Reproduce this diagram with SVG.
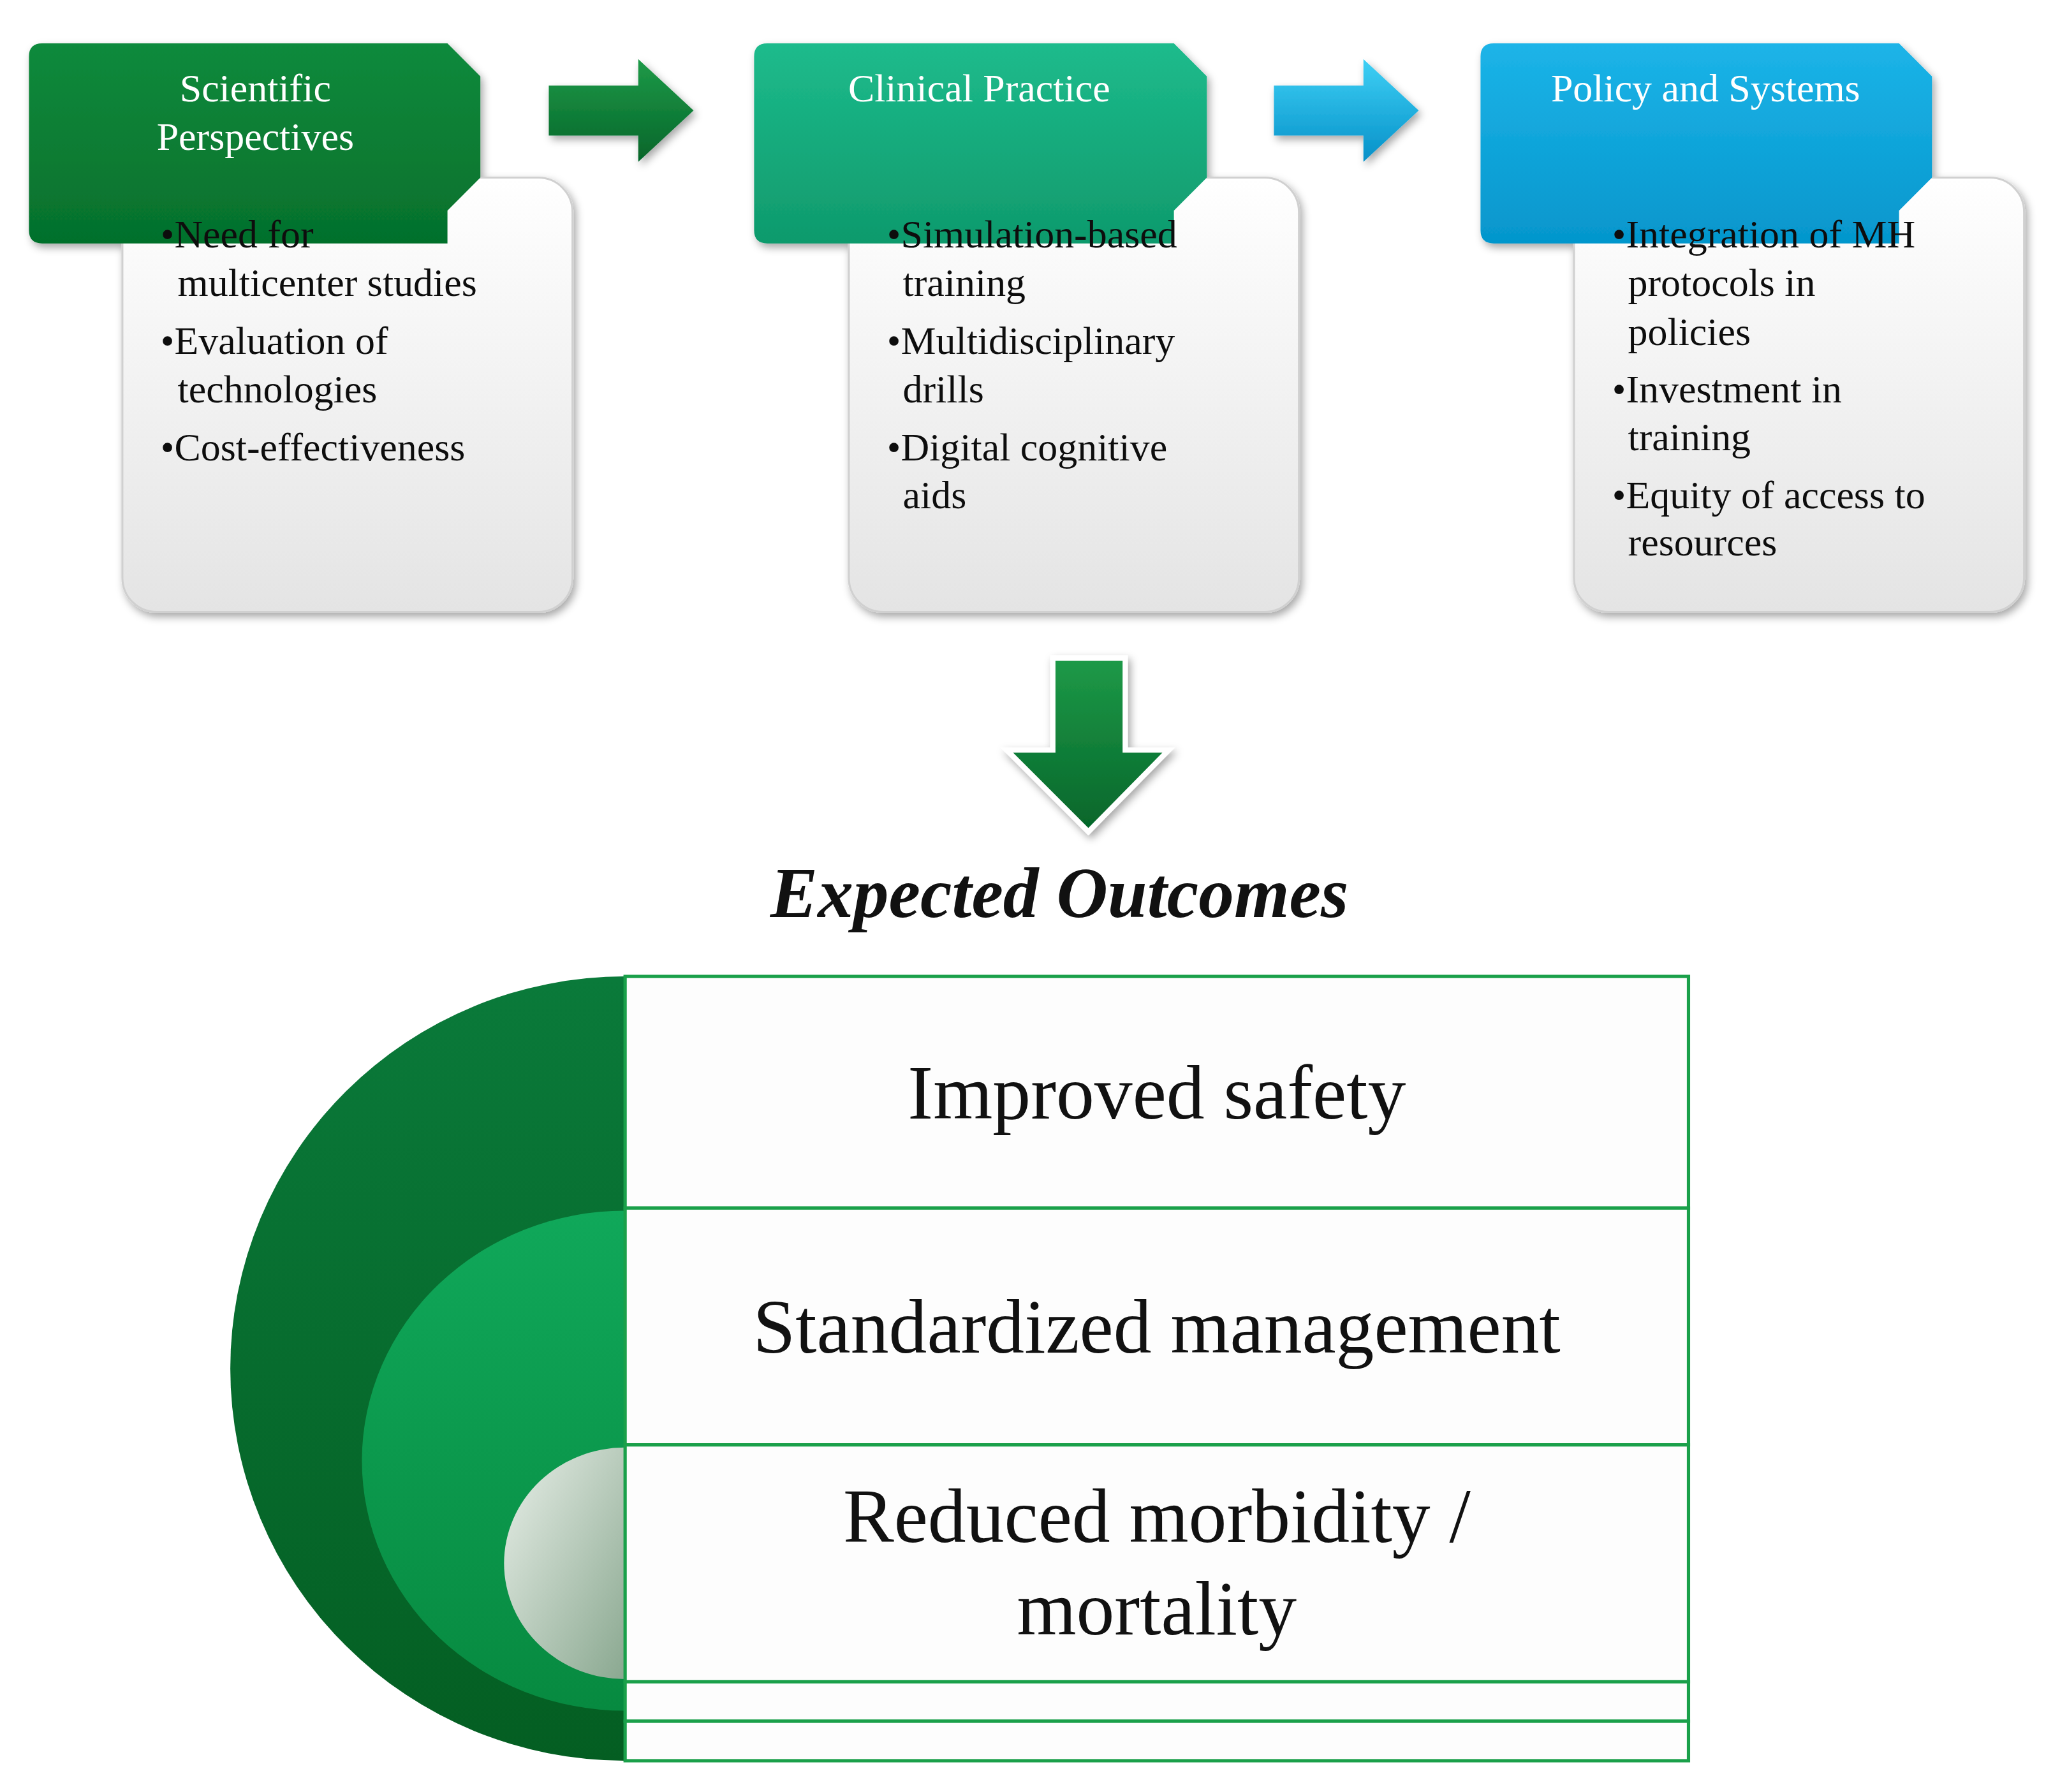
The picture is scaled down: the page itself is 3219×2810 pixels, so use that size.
<svg xmlns="http://www.w3.org/2000/svg" width="3219" height="2810" viewBox="0 0 3219 2810">
<defs>
<linearGradient id="gHead1" x1="0" y1="0" x2="0" y2="1"><stop offset="0" stop-color="#0f8a3c"/><stop offset="1" stop-color="#05702c"/></linearGradient>
<linearGradient id="gHead2" x1="0" y1="0" x2="0" y2="1"><stop offset="0" stop-color="#1dbb8c"/><stop offset="1" stop-color="#0f9a6c"/></linearGradient>
<linearGradient id="gHead3" x1="0" y1="0" x2="0" y2="1"><stop offset="0" stop-color="#1cb4e8"/><stop offset="1" stop-color="#0596cc"/></linearGradient>
<linearGradient id="gBox" x1="0" y1="0" x2="0" y2="1"><stop offset="0" stop-color="#ffffff"/><stop offset="1" stop-color="#e4e4e4"/></linearGradient>
<linearGradient id="gArrG" x1="0" y1="0" x2="0" y2="1"><stop offset="0" stop-color="#1e9a48"/><stop offset="1" stop-color="#05652a"/></linearGradient>
<linearGradient id="gArrB" x1="0" y1="0" x2="0" y2="1"><stop offset="0" stop-color="#3fd0f5"/><stop offset="1" stop-color="#0590c8"/></linearGradient>
<linearGradient id="gBig" x1="0" y1="0" x2="0" y2="1"><stop offset="0" stop-color="#0a7a3a"/><stop offset="1" stop-color="#045e22"/></linearGradient>
<linearGradient id="gMid" x1="0" y1="0" x2="0" y2="1"><stop offset="0" stop-color="#10a85a"/><stop offset="1" stop-color="#078a40"/></linearGradient>
<linearGradient id="gSmall" x1="0" y1="0" x2="1" y2="1"><stop offset="0" stop-color="#e8efe8"/><stop offset="1" stop-color="#8aa890"/></linearGradient>
<filter id="sh" x="-10%" y="-10%" width="130%" height="130%"><feDropShadow dx="2" dy="3" stdDeviation="3" flood-opacity="0.35"/></filter>
</defs>
<style>
.hd{font-family:"Liberation Serif",serif;font-size:30px;fill:#fff;text-anchor:middle}
.bl{font-family:"Liberation Serif",serif;font-size:30px;fill:#111}
.box{fill:url(#gBox);stroke:#d0d0d0;stroke-width:1.5}
.oc{font-family:"Liberation Serif",serif;font-size:58px;fill:#111;text-anchor:middle}
.row{fill:#fdfdfd;stroke:#1aa04a;stroke-width:2.5}
</style>
<rect width="3219" height="2810" fill="#fff"/>
<g transform="scale(2.0635)">
<g id="node-scientific" filter="url(#sh)">
<rect class="box" x="93" y="135" width="342" height="330" rx="26"/>
<path d="M32,33 H340 L365,58 V135 L340,160 V185 H32 Q22,185 22,175 V43 Q22,33 32,33 Z" fill="url(#gHead1)"/>
<text class="hd" x="194" y="77">Scientific</text>
<text class="hd" x="194" y="114">Perspectives</text>
<text class="bl" x="122" y="188">•Need for</text>
<text class="bl" x="135" y="225">multicenter studies</text>
<text class="bl" x="122" y="269">•Evaluation of</text>
<text class="bl" x="135" y="306">technologies</text>
<text class="bl" x="122" y="350">•Cost-effectiveness</text>
</g>
<g id="node-clinical" filter="url(#sh)">
<rect class="box" x="645" y="135" width="342" height="330" rx="26"/>
<path d="M583,33 H892 L917,58 V135 L892,160 V185 H583 Q573,185 573,175 V43 Q573,33 583,33 Z" fill="url(#gHead2)"/>
<text class="hd" x="744" y="77">Clinical Practice</text>
<text class="bl" x="674" y="188">•Simulation-based</text>
<text class="bl" x="686" y="225">training</text>
<text class="bl" x="674" y="269">•Multidisciplinary</text>
<text class="bl" x="686" y="306">drills</text>
<text class="bl" x="674" y="350">•Digital cognitive</text>
<text class="bl" x="686" y="386">aids</text>
</g>
<g id="node-policy" filter="url(#sh)">
<rect class="box" x="1196" y="135" width="342" height="330" rx="26"/>
<path d="M1135,33 H1443 L1468,58 V135 L1443,160 V185 H1135 Q1125,185 1125,175 V43 Q1125,33 1135,33 Z" fill="url(#gHead3)"/>
<text class="hd" x="1296" y="77">Policy and Systems</text>
<text class="bl" x="1225" y="188">•Integration of MH</text>
<text class="bl" x="1237" y="225">protocols in</text>
<text class="bl" x="1237" y="262">policies</text>
<text class="bl" x="1225" y="306">•Investment in</text>
<text class="bl" x="1237" y="342">training</text>
<text class="bl" x="1225" y="386">•Equity of access to</text>
<text class="bl" x="1237" y="422">resources</text>
</g>
<g id="connectors" filter="url(#sh)">
<path d="M417,65 H485 V45 L527,84 L485,123 V103 H417 Z" fill="url(#gArrG)"/>
<path d="M968,65 H1036 V45 L1078,84 L1036,123 V103 H968 Z" fill="url(#gArrB)"/>
<path d="M800,500 H855 V570 H888 L827,632 L765,570 H800 Z" fill="url(#gArrG)" stroke="#fff" stroke-width="4"/>
</g>
<text x="805" y="697" font-family="Liberation Serif,serif" font-size="54" font-weight="bold" font-style="italic" fill="#111" text-anchor="middle">Expected Outcomes</text>
<g id="outcomes">
<path d="M475,742 A300,298 0 0 0 475,1338 Z" fill="url(#gBig)"/>
<path d="M475,920 A200,190 0 0 0 475,1300 Z" fill="url(#gMid)"/>
<path d="M475,1100 A92,88 0 0 0 475,1276 Z" fill="url(#gSmall)"/>
<rect class="row" x="475" y="742" width="808" height="176"/>
<rect class="row" x="475" y="918" width="808" height="180" stroke="#c8dcc8"/>
<rect class="row" x="475" y="1098" width="808" height="180" stroke="#c8dcc8"/>
<rect class="row" x="475" y="1278" width="808" height="30"/>
<rect class="row" x="475" y="1308" width="808" height="30"/>
<text class="oc" x="879" y="850">Improved safety</text>
<text class="oc" x="879" y="1028">Standardized management</text>
<text class="oc" x="879" y="1172">Reduced morbidity /</text>
<text class="oc" x="879" y="1242">mortality</text>
</g>
</g>
</svg>
